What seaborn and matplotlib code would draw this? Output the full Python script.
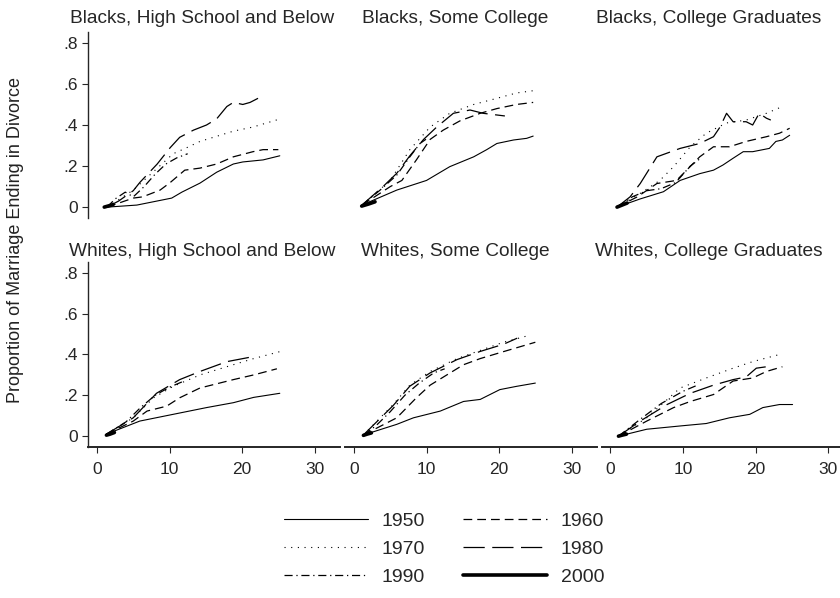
import matplotlib
matplotlib.use("Agg")
import matplotlib.pyplot as plt
from matplotlib.lines import Line2D
import seaborn as sns
import pandas as pd

sns.set_style("ticks")
plt.rcParams['font.family'] = ['Liberation Sans', 'DejaVu Sans']

# ---------------- data (years since marriage, proportion divorced) ----------------
COHORTS = [1950, 1960, 1970, 1980, 1990, 2000]
PANEL_TITLES = ["Blacks, High School and Below", "Blacks, Some College", "Blacks, College Graduates",
                "Whites, High School and Below", "Whites, Some College", "Whites, College Graduates"]
X_TICKS = [0, 10, 20, 30]
X_TICK_LABELS = ["0", "10", "20", "30"]
Y_TICKS = [0, 0.2, 0.4, 0.6, 0.8]
Y_TICK_LABELS = ["0", ".2", ".4", ".6", ".8"]

BLACK_HS = {
    1950: ([1.4, 5.5, 10.3, 11.7, 14.2, 16.5, 18.8, 20.1, 22.9, 25.2],
           [0, .01, .044, .073, .117, .17, .21, .22, .23, .25]),
    1960: ([1.4, 5, 6.3, 8.7, 10.1, 12.1, 14.2, 16.5, 18.8, 21.5, 22.9, 25],
           [0, .044, .05, .083, .12, .18, .19, .21, .245, .27, .28, .28]),
    1970: ([1.4, 5, 7.7, 10.5, 12.4, 14.2, 18.8, 21.5, 24.8],
           [0, .083, .17, .26, .29, .32, .37, .39, .425]),
    1980: ([1.4, 3, 5, 5.9, 8.3, 10.1, 11.4, 13.3, 15.1, 16.5, 17.9, 18.8, 20.1, 21.1, 22.2],
           [0, .03, .08, .12, .21, .29, .34, .375, .40, .43, .49, .51, .50, .51, .53]),
    1990: ([1.4, 2.5, 3.9, 5, 6.5, 8, 9.5, 11, 12.5],
           [0, .04, .073, .05, .1, .16, .21, .24, .26]),
    2000: ([1.0, 1.5, 2.2], [0, .005, .012]),
}
BLACK_SC = {
    1950: ([1.1, 5.9, 10, 13.2, 16.5, 18.3, 19.7, 22, 23.8, 24.7],
           [.01, .083, .13, .197, .245, .28, .31, .327, .335, .346]),
    1960: ([1.1, 5, 6.6, 8.6, 10.5, 12.3, 14.6, 17.4, 19.7, 22.4, 24.7],
           [.01, .1, .13, .23, .33, .375, .42, .457, .48, .50, .51]),
    1970: ([1.1, 5, 7.7, 10.5, 13.2, 16.5, 19.7, 22.4, 24.7],
           [.01, .13, .28, .39, .457, .50, .53, .556, .567]),
    1980: ([1.1, 4, 5.9, 7.7, 9.6, 11.4, 13.7, 16, 17.8, 20.8],
           [.01, .1, .165, .25, .33, .39, .457, .473, .457, .444]),
    1990: ([1.1, 3.6, 5.9, 7.7, 9.1, 10.3],
           [.01, .083, .156, .245, .31, .34]),
    2000: ([1.06, 2.0, 2.9], [.005, .015, .026]),
}
BLACK_CG = {
    1950: ([0.9, 4.1, 7.3, 9.6, 12.3, 14.2, 15.5, 16.9, 18.3, 19.6, 21.9, 22.8, 23.7, 24.7],
           [0, .04, .075, .13, .163, .18, .205, .238, .27, .27, .286, .32, .327, .35]),
    1960: ([0.9, 3.7, 6.4, 9.1, 10.5, 12.3, 14.2, 16.4, 18.7, 21.5, 23.3, 24.7],
           [0, .05, .115, .13, .18, .245, .294, .294, .32, .343, .36, .384]),
    1970: ([0.9, 4.1, 6.8, 8.7, 11, 13.2, 16, 18.7, 21.5, 23.7],
           [0, .067, .13, .197, .294, .36, .41, .424, .457, .49]),
    1980: ([0.9, 2.7, 4.1, 6.4, 9.6, 12.3, 14.2, 15.1, 16, 16.9, 18.7, 19.6, 20.5, 21.5, 22.1],
           [0, .05, .115, .245, .286, .31, .343, .39, .457, .416, .416, .40, .457, .433, .424]),
    1990: ([0.9, 3, 5, 7, 9, 11, 12.5],
           [0, .05, .08, .09, .12, .2, .24]),
    2000: ([0.9, 1.6, 2.3], [0, .01, .02]),
}
WHITE_HS = {
    1950: ([1.3, 5.9, 10.5, 15.1, 18.8, 21.6, 25.2],
           [.01, .074, .107, .14, .164, .19, .21]),
    1960: ([1.3, 5, 6.9, 9.6, 11.4, 14.2, 18.8, 21.6, 24.8],
           [.01, .074, .123, .147, .188, .236, .277, .30, .33]),
    1970: ([1.3, 5, 7.8, 10.5, 14.2, 18.8, 21.6, 25.2],
           [.01, .09, .188, .244, .30, .35, .38, .414]),
    1980: ([1.3, 5, 8.2, 11.4, 14.2, 17.9, 21.6],
           [.01, .09, .21, .277, .317, .365, .39]),
    1990: ([1.3, 4, 6, 8, 10, 12],
           [.01, .07, .14, .2, .24, .27]),
    2000: ([1.3, 1.8, 2.4], [.005, .01, .018]),
}
WHITE_SC = {
    1950: ([1.3, 5.9, 8.2, 11.9, 15.1, 17.4, 20.1, 22.4, 25],
           [.006, .058, .09, .123, .17, .18, .228, .244, .26]),
    1960: ([1.3, 5.9, 8.6, 10.5, 12.8, 15.1, 17.4, 20.6, 25],
           [.006, .09, .188, .25, .30, .35, .38, .414, .46]),
    1970: ([1.3, 5.4, 7.7, 10.5, 14.2, 17.4, 20.6, 24.3],
           [.006, .155, .25, .317, .38, .42, .46, .495]),
    1980: ([1.3, 5.4, 7.7, 10.5, 14.2, 17.4, 20.6, 22.5],
           [.006, .15, .245, .31, .375, .415, .45, .48]),
    1990: ([1.3, 3, 5, 7, 9, 11, 12.5],
           [.006, .05, .12, .2, .26, .31, .33]),
    2000: ([1.3, 1.8, 2.4], [.004, .01, .016]),
}
WHITE_CG = {
    1950: ([1.1, 5, 9.6, 13.2, 16.4, 19.2, 21, 23.3, 25.1],
           [0, .034, .05, .062, .09, .107, .14, .155, .155]),
    1960: ([1.1, 5, 8.7, 11, 14.2, 16.9, 19.6, 21.5, 23.7],
           [0, .074, .14, .17, .204, .27, .285, .317, .34]),
    1970: ([1.1, 5, 9.6, 13.2, 16.9, 19.6, 23.3],
           [0, .09, .236, .285, .333, .365, .40]),
    1980: ([1.1, 4.1, 7.8, 11, 14.2, 16.9, 18.7, 20.1, 21.5, 22.4],
           [0, .074, .155, .21, .25, .277, .29, .333, .34, .33]),
    1990: ([1.1, 4, 7, 10, 12],
           [0, .08, .16, .22, .25]),
    2000: ([1.1, 1.6, 2.2], [0, .005, .01]),
}
PANELS = [BLACK_HS, BLACK_SC, BLACK_CG, WHITE_HS, WHITE_SC, WHITE_CG]

# ---------------- styles ----------------
DASHES = {1950: "", 1960: (7, 4), 1970: (1, 5), 1980: (17, 6), 1990: (6.5, 3, 1, 3), 2000: ""}
WIDTHS = {1950: 0.8, 1960: 0.9, 1970: 0.8, 1980: 0.9, 1990: 0.9, 2000: 2.6}

rows = []
for p, panel in enumerate(PANELS):
    for c in COHORTS:
        xs, ys = panel[c]
        for i, (x, y) in enumerate(zip(xs, ys)):
            rows.append({"panel": p, "cohort": c, "order": i, "years": x, "prop": y})
df = pd.DataFrame(rows)

W, H = 840, 598
fig = plt.figure(figsize=(W / 100, H / 100), dpi=100)

col_left = [88, 345, 601.5]
row_top = [32, 262]
row_bot = [218, 447]
pw = 252
XLIM = (-1.24, 33.5)
YLIM = (-0.053, 0.853)

axes = []
for p in range(6):
    r, c = divmod(p, 3)
    ax = fig.add_axes([col_left[c] / W, 1 - row_bot[r] / H, pw / W, (row_bot[r] - row_top[r]) / H])
    sub = df[df.panel == p]
    sns.lineplot(data=sub, x="years", y="prop", style="cohort", size="cohort",
                 dashes=DASHES, sizes=WIDTHS, color="black", estimator=None,
                 sort=False, units="cohort", legend=False, ax=ax)
    ax.set_xlim(*XLIM)
    ax.set_ylim(*YLIM)
    ax.set_xlabel("")
    ax.set_ylabel("")
    for s in ["top", "right"]:
        ax.spines[s].set_visible(False)
    ax.spines["left"].set_visible(c == 0)
    ax.spines["bottom"].set_visible(r == 1)
    ax.spines["left"].set_linewidth(1.0)
    ax.spines["bottom"].set_linewidth(1.4)
    ax.set_yticks(Y_TICKS)
    ax.set_xticks(X_TICKS)
    if c == 0:
        ax.set_yticklabels(Y_TICK_LABELS)
        ax.tick_params(axis="y", length=4.5, width=0.8, pad=3, labelsize=12.5)
    else:
        ax.tick_params(axis="y", left=False, labelleft=False)
    if r == 1:
        ax.set_xticklabels(X_TICK_LABELS)
        ax.tick_params(axis="x", length=4.5, width=0.8, pad=6, labelsize=12.5)
    else:
        ax.tick_params(axis="x", bottom=False, labelbottom=False)
    ax.patch.set_alpha(0)
    axes.append(ax)

title_cx = [202, 455, 709]
title_base = [23, 256]
for p, t in enumerate(PANEL_TITLES):
    r, c = divmod(p, 3)
    fig.text(title_cx[c] / W, 1 - title_base[r] / H, t, ha="center", va="baseline", fontsize=13.8)

fig.text(16 / W, 1 - 240 / H, "Proportion of Marriage Ending in Divorce",
         rotation=90, ha="center", va="center", fontsize=13, color="#222222")

# legend (column-major: 1950, 1970, 1990 | 1960, 1980, 2000)
order = [1950, 1970, 1990, 1960, 1980, 2000]
handles = []
for c in order:
    ln = Line2D([0], [0], color="black", lw=WIDTHS[c])
    if DASHES[c]:
        ln.set_dashes(DASHES[c])
    handles.append(ln)
fig.legend(handles, [str(c) for c in order], ncol=2, frameon=False,
           loc="center", bbox_to_anchor=(444 / W, 1 - 549 / H),
           fontsize=14, handlelength=4.3, handletextpad=0.7,
           columnspacing=2.0, labelspacing=0.52)

fig.savefig("out.png", dpi=100)
